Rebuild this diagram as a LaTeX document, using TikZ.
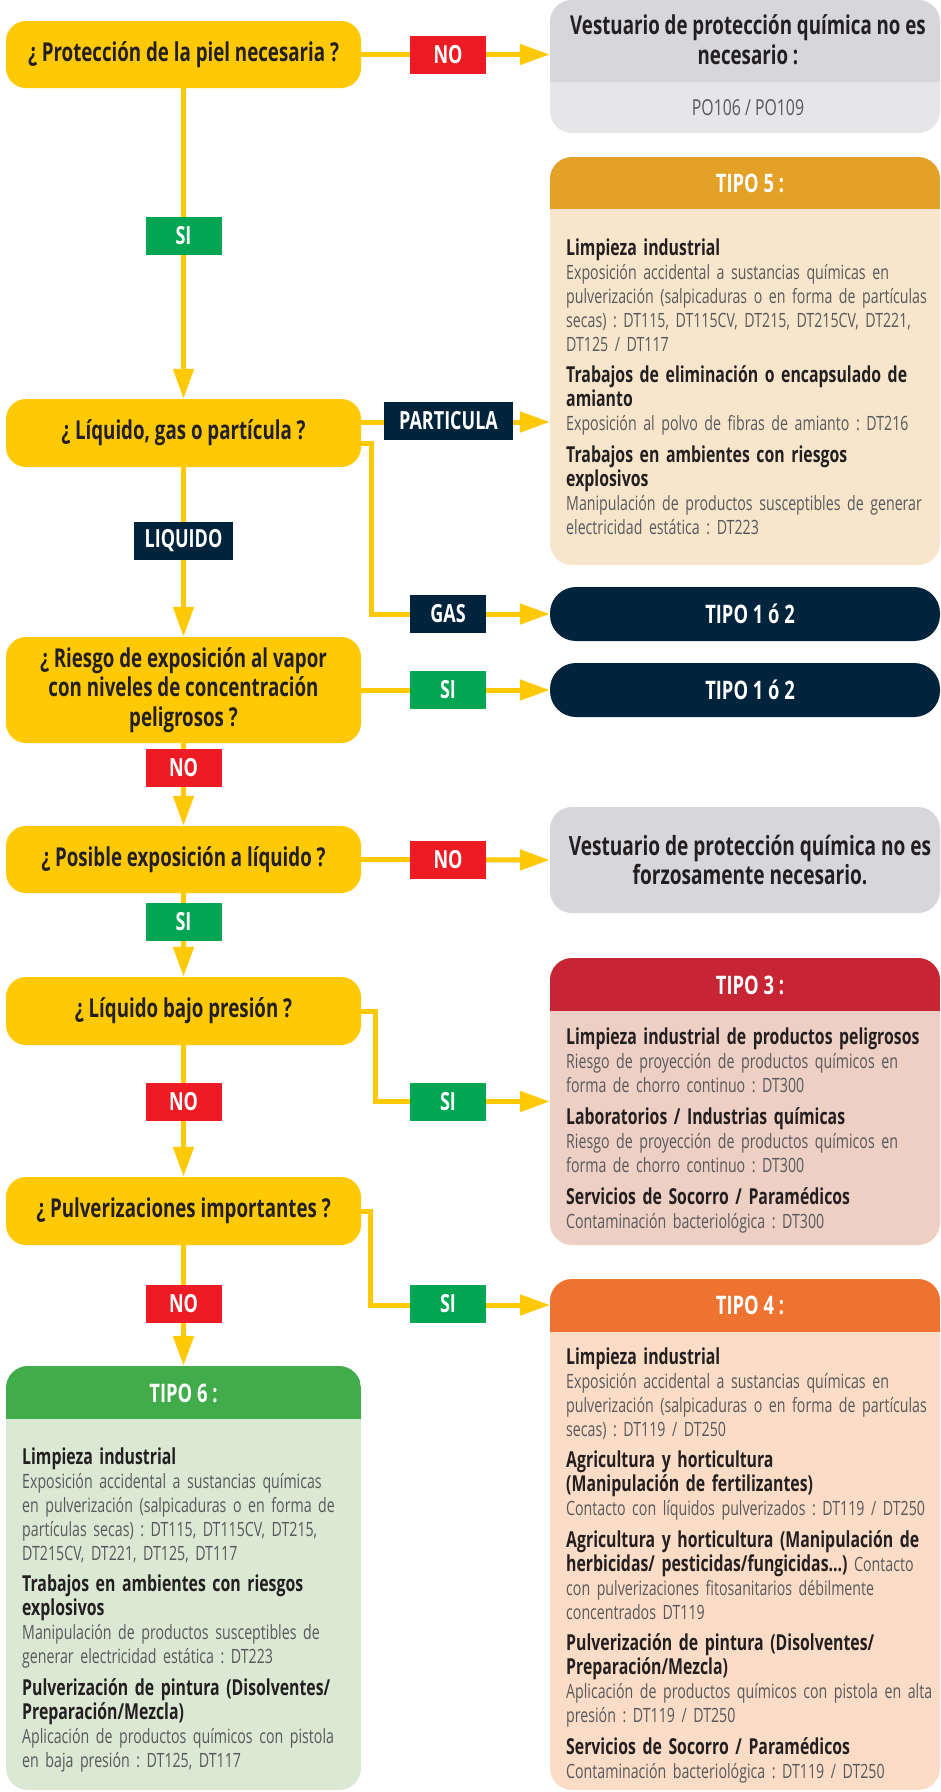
\documentclass[tikz,border=0pt]{standalone}
\usepackage{fontspec}
\setmainfont{Open Sans}[FakeStretch=0.72]
\usetikzlibrary{arrows.meta}
\frenchspacing
\definecolor{yel}{HTML}{FFC905}
\definecolor{nored}{HTML}{ED1C24}
\definecolor{sigrn}{HTML}{00A651}
\definecolor{navy}{HTML}{00243C}
\definecolor{txt}{HTML}{231F20}
\definecolor{bodytxt}{HTML}{58595B}
\definecolor{grayh}{HTML}{D6D6DB}
\definecolor{grayb}{HTML}{E6E6E9}
\definecolor{tfiveh}{HTML}{E3A127}
\definecolor{tfiveb}{HTML}{F8E6CC}
\definecolor{tthreeh}{HTML}{C72533}
\definecolor{tthreeb}{HTML}{EECFC4}
\definecolor{tfourh}{HTML}{EE7331}
\definecolor{tfourb}{HTML}{FBDCC6}
\definecolor{tsixh}{HTML}{40AD4A}
\definecolor{tsixb}{HTML}{DAE8D4}
\newcommand\fdec{\frenchspacing\bfseries\fontsize{26}{29.5}\selectfont}
\newcommand\flab{\bfseries\fontsize{25}{28}\selectfont}
\newcommand\fhead{\bfseries\fontsize{25.5}{28}\selectfont}
\newcommand\fbody{\frenchspacing\fontsize{19.7}{24}\selectfont}
\newcommand\hd{\bfseries\color{txt}\fontsize{22}{23.5}\selectfont}
\begin{document}
\begin{tikzpicture}[x=1pt,y=-1pt,
  dec/.style={rectangle, rounded corners=20pt, fill=yel, minimum width=355pt, minimum height=67pt, inner sep=0pt, align=center, text=txt, font=\fdec},
  lab/.style={rectangle, minimum height=38pt, minimum width=76pt, inner sep=0pt, text=white, font=\flab},
  resbox/.style={rectangle, rounded corners=22pt, minimum width=390pt, inner sep=0pt},
  conn/.style={yel, line width=5pt},
  arr/.style={conn, -{Triangle[length=30pt,width=20pt]}},
  bodytext/.style={anchor=base west, inner sep=0pt, text width=385pt, align=left, text=bodytxt, font=\fbody},
  headtext/.style={text=white, font=\fhead, inner sep=0pt}
]
\useasboundingbox (0,0) rectangle (941,1792);
\fill[white] (0,0) rectangle (941,1792);

% ---------- decision boxes ----------
\node[dec] (b1) at (183.5,54.5) {¿ Protección de la piel necesaria ?};
\node[dec, minimum height=68pt] (b2) at (183.5,433) {¿ Líquido, gas o partícula ?};
\node[dec, minimum height=106pt] (b3) at (183.5,690) {¿ Riesgo de exposición al vapor\\con niveles de concentración\\peligrosos ?};
\node[dec] (b4) at (183.5,859.5) {¿ Posible exposición a líquido ?};
\node[dec, minimum height=68pt] (b5) at (183.5,1011) {¿ Líquido bajo presión ?};
\node[dec, minimum height=68pt] (b6) at (183.5,1211) {¿ Pulverizaciones importantes ?};

% ---------- result boxes ----------
% gray 1
\node[resbox, fill=grayb, minimum height=133pt] (r0) at (745,66.5) {};
\begin{scope}
\clip[rounded corners=22pt] (550,0) rectangle (940,133);
\fill[grayh] (550,0) rectangle (940,82);
\end{scope}
\node[align=center, text=txt, font=\frenchspacing\bfseries\fontsize{26}{30}\selectfont, inner sep=0pt] (r0t) at (748,40) {Vestuario de protección química no es\\necesario :};
\node[text=bodytxt, font=\fontsize{22}{24}\selectfont, inner sep=0pt] (r0c) at (748,108) {PO106 / PO109};

% tipo 5
\node[resbox, fill=tfiveb, minimum height=408pt] (t5) at (745,361) {};
\begin{scope}
\clip[rounded corners=22pt] (550,157) rectangle (940,565);
\fill[tfiveh] (550,157) rectangle (940,209);
\end{scope}
\node[headtext] (t5h) at (750,183) {TIPO 5 :};
\node[bodytext] (t5txt) at (566,255) {{\hd Limpieza industrial}\\
Exposición accidental a sustancias químicas en\\
pulverización (salpicaduras o en forma de partículas\\
secas) : DT115, DT115CV, DT215, DT215CV, DT221,\\
DT125 / DT117\\[8pt]
{\hd Trabajos de eliminación o encapsulado de\\amianto}\\
Exposición al polvo de fibras de amianto : DT216\\[8pt]
{\hd Trabajos en ambientes con riesgos\\explosivos}\\
Manipulación de productos susceptibles de generar\\
electricidad estática : DT223};

% tipo 1 o 2
\node[resbox, fill=navy, minimum height=54pt, rounded corners=26pt] (t12a) at (745,614) {};
\node[headtext] (t12at) at (750,614) {TIPO 1 ó 2};
\node[resbox, fill=navy, minimum height=54pt, rounded corners=26pt] (t12b) at (745,690) {};
\node[headtext] (t12bt) at (750,690) {TIPO 1 ó 2};

% gray 2
\node[resbox, fill=grayh, minimum height=106pt] (r1) at (745,860) {};
\node[align=center, text=txt, font=\frenchspacing\bfseries\fontsize{26.5}{29}\selectfont, inner sep=0pt] (r1t) at (750,860) {Vestuario de protección química no es\\forzosamente necesario.};

% tipo 3
\node[resbox, fill=tthreeb, minimum height=287pt] (t3) at (745,1101.5) {};
\begin{scope}
\clip[rounded corners=22pt] (550,958) rectangle (940,1245);
\fill[tthreeh] (550,958) rectangle (940,1011);
\end{scope}
\node[headtext] (t3h) at (750,985) {TIPO 3 :};
\node[bodytext] (t3txt) at (566,1044) {{\hd Limpieza industrial de productos peligrosos}\\
Riesgo de proyección de productos químicos en\\
forma de chorro continuo : DT300\\[8pt]
{\hd Laboratorios / Industrias químicas}\\
Riesgo de proyección de productos químicos en\\
forma de chorro continuo : DT300\\[8pt]
{\hd Servicios de Socorro / Paramédicos}\\
Contaminación bacteriológica : DT300};

% tipo 4
\node[resbox, fill=tfourb, minimum height=511pt] (t4) at (745,1534.5) {};
\begin{scope}
\clip[rounded corners=22pt] (550,1279) rectangle (940,1790);
\fill[tfourh] (550,1279) rectangle (940,1332);
\end{scope}
\node[headtext] (t4h) at (750,1305) {TIPO 4 :};
\node[bodytext] (t4txt) at (566,1364) {{\hd Limpieza industrial}\\
Exposición accidental a sustancias químicas en\\
pulverización (salpicaduras o en forma de partículas\\
secas) : DT119 / DT250\\[8pt]
{\hd Agricultura y horticultura\\(Manipulación de fertilizantes)}\\
Contacto con líquidos pulverizados : DT119 / DT250\\[8pt]
{\hd Agricultura y horticultura (Manipulación de\\herbicidas/ pesticidas/fungicidas...)} Contacto\\
con pulverizaciones fitosanitarios débilmente\\
concentrados DT119\\[8pt]
{\hd Pulverización de pintura (Disolventes/\\Preparación/Mezcla)}\\
Aplicación de productos químicos con pistola en alta\\
presión : DT119 / DT250\\[8pt]
{\hd Servicios de Socorro / Paramédicos}\\
Contaminación bacteriológica : DT119 / DT250};

% tipo 6
\node[resbox, fill=tsixb, minimum width=355pt, minimum height=424pt] (t6) at (183.5,1578) {};
\begin{scope}
\clip[rounded corners=22pt] (6,1366) rectangle (361,1790);
\fill[tsixh] (6,1366) rectangle (361,1419);
\end{scope}
\node[headtext] (t6h) at (183.5,1393) {TIPO 6 :};
\node[bodytext, text width=338pt] (t6txt) at (22,1464) {{\hd Limpieza industrial}\\
Exposición accidental a sustancias químicas\\
en pulverización (salpicaduras o en forma de\\
partículas secas) : DT115, DT115CV, DT215,\\
DT215CV, DT221, DT125, DT117\\[8pt]
{\hd Trabajos en ambientes con riesgos\\explosivos}\\
Manipulación de productos susceptibles de\\
generar electricidad estática : DT223\\[8pt]
{\hd Pulverización de pintura (Disolventes/\\Preparación/Mezcla)}\\
Aplicación de productos químicos con pistola\\
en baja presión : DT125, DT117};

\coordinate (t4in) at (550,1305);

% ---------- connectors ----------
\draw[arr] (b1.east) -- (b1.east -| r0.west);
\draw[arr] (b1.south) -- (b2.north);
\draw[arr] ([yshift=11pt]b2.east) -- ([yshift=11pt]b2.east -| t5.west);
\draw[arr] ([yshift=-10pt]b2.east) -- ++(10,0) |- (t12a.west);
\draw[arr] (b2.south) -- (b3.north);
\draw[arr] (b3.east) -- (t12b.west);
\draw[arr] (b3.south) -- (b4.north);
\draw[arr] (b4.east) -- (r1.west);
\draw[arr] (b4.south) -- (b5.north);
\draw[arr] (b5.east) -- ++(14,0) |- (t3.west);
\draw[arr] (b5.south) -- (b6.north);
\draw[arr] (b6.east) -- ++(9,0) |- (t4in);
\draw[arr] (b6.south) -- (t6.north);

% ---------- labels ----------
\node[lab, fill=nored] (l1) at (448,55) {NO};
\node[lab, fill=sigrn] (l2) at (183.5,235.5) {SI};
\node[lab, fill=navy, minimum width=129pt] (l3) at (448.5,421) {PARTICULA};
\node[lab, fill=navy, minimum width=99pt] (l4) at (183.5,541) {LIQUIDO};
\node[lab, fill=navy] (l5) at (448,614) {GAS};
\node[lab, fill=sigrn] (l6) at (448,690) {SI};
\node[lab, fill=nored] (l7) at (183.5,767.5) {NO};
\node[lab, fill=nored] (l8) at (448,860) {NO};
\node[lab, fill=sigrn] (l9) at (183.5,922) {SI};
\node[lab, fill=nored] (l10) at (183.5,1102) {NO};
\node[lab, fill=sigrn] (l11) at (448,1102) {SI};
\node[lab, fill=nored] (l12) at (183.5,1304) {NO};
\node[lab, fill=sigrn] (l13) at (448,1304) {SI};
\end{tikzpicture}
\end{document}
